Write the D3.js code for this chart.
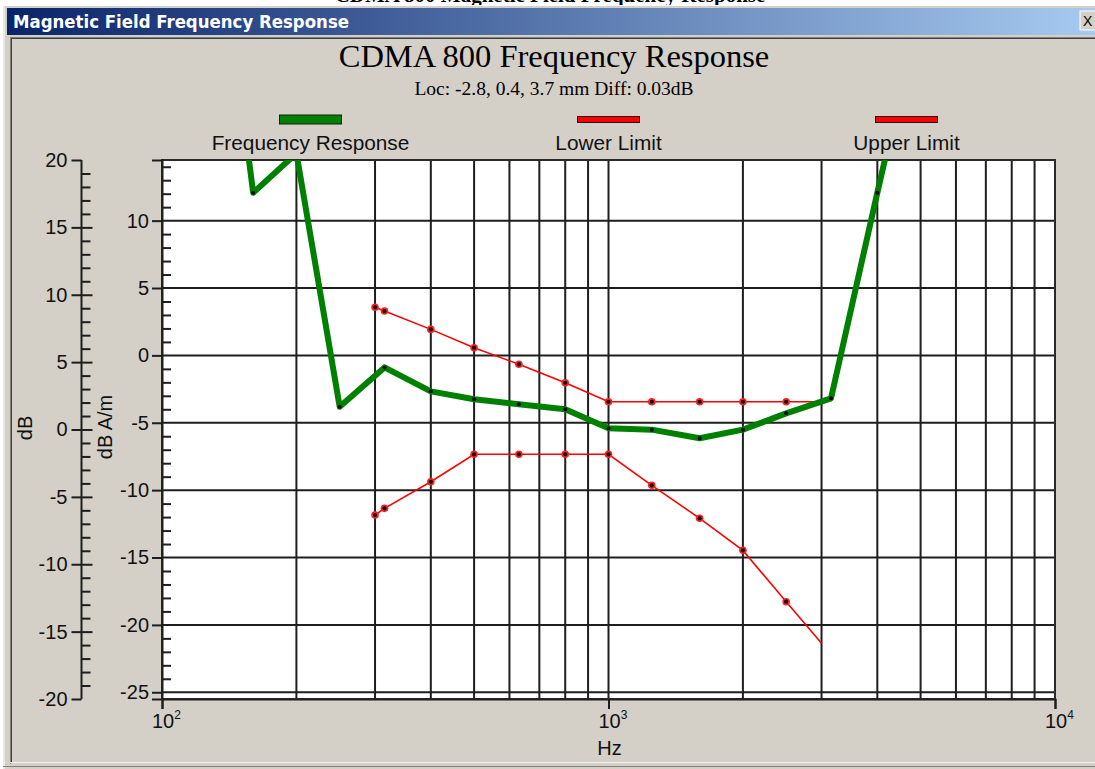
<!DOCTYPE html>
<html>
<head>
<meta charset="utf-8">
<script src="https://cdn.jsdelivr.net/npm/d3@7"></script>
<style>
  html, body { margin: 0; padding: 0; background: #ffffff; }
  svg { display: block; }
</style>
</head>
<body>
<script>
// ---------------- DATA ----------------
const responseFreqs = [125, 160, 200, 250, 315, 400, 500, 630, 800, 1000, 1250, 1600, 2000, 2500, 3150, 4000, 5000];
const responseValues = [40, 12.07, 15.0, -3.81, -0.89, -2.67, -3.26, -3.63, -4.00, -5.41, -5.51, -6.15, -5.51, -4.30, -3.19, 12.07, 26];

const limitFreqs = [300, 315, 400, 500, 630, 800, 1000, 1250, 1600, 2000, 2500, 3000];
const upperLimit = [3.57, 3.29, 1.93, 0.57, -0.66, -2.03, -3.44, -3.44, -3.44, -3.44, -3.44, -3.44];
const lowerLimit = [-11.85, -11.35, -9.38, -7.34, -7.34, -7.34, -7.34, -9.64, -12.09, -14.47, -18.28, -21.37];

const innerMajorTicks = [10, 5, 0, -5, -10, -15, -20, -25];
const outerMajorTicks = [20, 15, 10, 5, 0, -5, -10, -15, -20];
const xMajorTicks = [100, 1000, 10000];
const xMajorExp = ["2", "3", "4"];
const legendLabels = ["Frequency Response", "Lower Limit", "Upper Limit"];

const windowTitle = "Magnetic Field Frequency Response";
const chartTitle = "CDMA 800 Frequency Response";
const chartSubtitle = "Loc: -2.8, 0.4, 3.7 mm Diff: 0.03dB";
const pageHeading = "CDMA 800 Magnetic Field Frequency Response";

// ---------------- LAYOUT ----------------
const W = 1095, H = 769;
const plot = { left: 162, right: 1055, top: 160, bottom: 699 };
const outerAxisX = 81.5;

const svg = d3.select("body").append("svg").attr("width", W).attr("height", H);

const x = d3.scaleLog().domain([100, 10000]).range([plot.left, plot.right]);
const yIn = d3.scaleLinear().domain([-25.5, 14.5]).range([plot.bottom, plot.top]);
const yOut = d3.scaleLinear().domain([-20, 20]).range([plot.bottom, plot.top]);

const sans = "'Liberation Sans', Arial, sans-serif";
const serif = "'Liberation Serif', 'Times New Roman', serif";
const fmt = d => String(d);

// page background & clipped document heading above window
svg.append("rect").attr("width", W).attr("height", H).attr("fill", "#ffffff");
svg.append("text").attr("x", 550).attr("y", 1.5)
  .attr("text-anchor", "middle")
  .attr("font-family", serif).attr("font-weight", "bold").attr("font-size", 21)
  .text(pageHeading);

// window
const windowGroup = svg.append("g");
windowGroup.append("rect").attr("x", 3).attr("y", 5).attr("width", W - 3).attr("height", H - 5)
  .attr("fill", "#d4d0c8");
windowGroup.append("line").attr("x1", 4).attr("x2", 4).attr("y1", 5).attr("y2", H).attr("stroke", "#ffffff").attr("stroke-width", 1);
windowGroup.append("line").attr("x1", 3).attr("x2", W).attr("y1", 5.5).attr("y2", 5.5).attr("stroke", "#ffffff").attr("stroke-width", 1);

// title bar gradient
const defs = svg.append("defs");
const grad = defs.append("linearGradient").attr("id", "tbar").attr("x1", "0%").attr("x2", "100%");
grad.append("stop").attr("offset", "0%").attr("stop-color", "#0a246a");
grad.append("stop").attr("offset", "100%").attr("stop-color", "#a6caf0");
windowGroup.append("rect").attr("x", 7).attr("y", 8).attr("width", W - 7).attr("height", 27).attr("fill", "url(#tbar)");
windowGroup.append("text").attr("x", 13).attr("y", 28)
  .attr("fill", "#ffffff").attr("font-family", "'DejaVu Sans Condensed', 'DejaVu Sans', sans-serif")
  .attr("font-weight", "bold").attr("font-size", 17)
  .attr("textLength", 336).attr("lengthAdjust", "spacingAndGlyphs")
  .text(windowTitle);
// close button
windowGroup.append("rect").attr("x", 1080).attr("y", 11).attr("width", 20).attr("height", 19)
  .attr("fill", "#d4d0c8").attr("stroke", "#ffffff").attr("stroke-width", 1);
windowGroup.append("text").attr("x", 1083).attr("y", 26).attr("font-family", sans).attr("font-size", 14)
  .attr("fill", "#000").text("X");

// client sunken border
windowGroup.append("line").attr("x1", 10).attr("x2", W).attr("y1", 37.5).attr("y2", 37.5).attr("stroke", "#808080");
windowGroup.append("line").attr("x1", 11).attr("x2", W).attr("y1", 38.5).attr("y2", 38.5).attr("stroke", "#404040");
windowGroup.append("line").attr("x1", 10.5).attr("x2", 10.5).attr("y1", 37).attr("y2", 764).attr("stroke", "#808080");
windowGroup.append("line").attr("x1", 11.5).attr("x2", 11.5).attr("y1", 38).attr("y2", 763).attr("stroke", "#404040");
windowGroup.append("line").attr("x1", 10).attr("x2", W).attr("y1", 762.5).attr("y2", 762.5).attr("stroke", "#f4f4f4");
windowGroup.append("line").attr("x1", 3).attr("x2", W).attr("y1", 766.5).attr("y2", 766.5).attr("stroke", "#808080");

// chart titles
svg.append("text").attr("x", 554).attr("y", 67).attr("text-anchor", "middle")
  .attr("font-family", serif).attr("font-size", 32.5).attr("fill", "#000").text(chartTitle);
svg.append("text").attr("x", 554).attr("y", 95).attr("text-anchor", "middle")
  .attr("font-family", serif).attr("font-size", 19.5).attr("fill", "#000").text(chartSubtitle);

// legend
const legendX = [310.5, 608.5, 906.5];
const legendColors = ["#008000", "#ff0000", "#ff0000"];
const legendH = [9, 6, 6];
const legendG = svg.append("g");
legendLabels.forEach((lab, i) => {
  legendG.append("rect").attr("x", legendX[i] - 31).attr("y", 119.5 - legendH[i] / 2)
    .attr("width", 62).attr("height", legendH[i])
    .attr("fill", legendColors[i]).attr("stroke", "#1a1a1a").attr("stroke-width", 1);
  legendG.append("text").attr("x", legendX[i]).attr("y", 150).attr("text-anchor", "middle")
    .attr("font-family", sans).attr("font-size", 20.8).attr("fill", "#111").text(lab);
});

// plot area background
svg.append("rect").attr("x", plot.left).attr("y", plot.top)
  .attr("width", plot.right - plot.left).attr("height", plot.bottom - plot.top)
  .attr("fill", "#ffffff");

// grid lines
const gridG = svg.append("g").attr("stroke", "#1e1e1e").attr("stroke-width", 2);
const vFreqs = [];
[100, 1000].forEach(d => { for (let k = 2; k <= 9; k++) vFreqs.push(d * k); });
vFreqs.push(1000);
vFreqs.forEach(f => {
  gridG.append("line").attr("x1", x(f)).attr("x2", x(f)).attr("y1", plot.top).attr("y2", plot.bottom);
});
innerMajorTicks.forEach(v => {
  gridG.append("line").attr("x1", plot.left).attr("x2", plot.right).attr("y1", yIn(v)).attr("y2", yIn(v));
});

// plot frame
svg.append("rect").attr("x", plot.left).attr("y", plot.top)
  .attr("width", plot.right - plot.left).attr("height", plot.bottom - plot.top)
  .attr("fill", "none").attr("stroke", "#2a2a2a").attr("stroke-width", 2);

// inner (dB A/m) axis
const innerAxis = d3.axisLeft(yIn).tickValues(innerMajorTicks).tickSize(10).tickPadding(3).tickFormat(fmt);
const innerG = svg.append("g").attr("transform", `translate(${plot.left},0)`).call(innerAxis);
innerG.select(".domain").attr("stroke", "#1e1e1e").attr("stroke-width", 2);
innerG.selectAll(".tick line").attr("stroke", "#1e1e1e").attr("stroke-width", 2);
innerG.selectAll(".tick text").attr("font-family", sans).attr("font-size", 20).attr("fill", "#111");
const innerMinor = d3.range(-25, 15).filter(v => v % 5 !== 0);
const innerMinorAxis = d3.axisRight(yIn).tickValues(innerMinor).tickSize(9).tickFormat("");
const innerMinorG = svg.append("g").attr("transform", `translate(${plot.left},0)`).call(innerMinorAxis);
innerMinorG.select(".domain").remove();
innerMinorG.selectAll(".tick line").attr("stroke", "#1e1e1e").attr("stroke-width", 2);

// outer (dB) axis
const outerAxis = d3.axisLeft(yOut).tickValues(outerMajorTicks).tickSize(10).tickPadding(4).tickFormat(fmt);
const outerG = svg.append("g").attr("transform", `translate(${outerAxisX},0)`).call(outerAxis);
outerG.select(".domain").attr("stroke", "#1e1e1e").attr("stroke-width", 2).attr("d", `M0,${yOut(20)}V${yOut(-20)}`);
outerG.selectAll(".tick line").attr("stroke", "#1e1e1e").attr("stroke-width", 2);
outerG.selectAll(".tick text").attr("font-family", sans).attr("font-size", 20).attr("fill", "#111");
const outerRight = d3.range(-19, 20);
const outerRightAxis = d3.axisRight(yOut).tickValues(outerRight).tickSize(9).tickFormat("");
const outerRightG = svg.append("g").attr("transform", `translate(${outerAxisX},0)`).call(outerRightAxis);
outerRightG.select(".domain").remove();
outerRightG.selectAll(".tick line").attr("stroke", "#1e1e1e").attr("stroke-width", 2)
  .attr("x2", d => (d % 5 === 0 ? 11 : 9));

// axis titles
svg.append("text").attr("transform", `translate(32,428) rotate(-90)`).attr("text-anchor", "middle")
  .attr("font-family", sans).attr("font-size", 20).attr("fill", "#111").text("dB");
svg.append("text").attr("transform", `translate(112,427) rotate(-90)`).attr("text-anchor", "middle")
  .attr("font-family", sans).attr("font-size", 20).attr("fill", "#111").text("dB A/m");

// x axis
const xAxis = d3.axisBottom(x).tickValues(xMajorTicks).tickSize(10).tickFormat("");
const xG = svg.append("g").attr("transform", `translate(0,${plot.bottom})`).call(xAxis);
xG.select(".domain").attr("stroke", "#1e1e1e").attr("stroke-width", 2);
xG.selectAll(".tick line").attr("stroke", "#1e1e1e").attr("stroke-width", 2);
xMajorTicks.forEach((t, i) => {
  const tx = svg.append("text").attr("x", x(t) - 10).attr("y", 728)
    .attr("font-family", sans).attr("font-size", 20).attr("fill", "#111");
  tx.append("tspan").text("10");
  tx.append("tspan").attr("font-size", 12).attr("dy", -9).text(xMajorExp[i]);
});
svg.append("text").attr("x", x(1000) + 1).attr("y", 755).attr("text-anchor", "middle")
  .attr("font-family", sans).attr("font-size", 20).attr("fill", "#111").text("Hz");

// ---------------- DATA MARKS ----------------
defs.append("clipPath").attr("id", "plotclip").append("rect")
  .attr("x", plot.left).attr("y", plot.top)
  .attr("width", plot.right - plot.left).attr("height", plot.bottom - plot.top);
const dataG = svg.append("g").attr("clip-path", "url(#plotclip)");

const line = d3.line().x(d => x(d[0])).y(d => yIn(d[1]));

const upperPts = limitFreqs.map((f, i) => [f, upperLimit[i]]);
const lowerPts = limitFreqs.map((f, i) => [f, lowerLimit[i]]);
const respPts = responseFreqs.map((f, i) => [f, responseValues[i]]);

[upperPts, lowerPts].forEach(pts => {
  dataG.append("path").datum(pts).attr("d", line)
    .attr("fill", "none").attr("stroke", "#ff0000").attr("stroke-width", 1.6);
  const markPts = pts.slice(0, pts.length - 1);
  dataG.selectAll(null).data(markPts).enter().append("circle")
    .attr("cx", d => x(d[0])).attr("cy", d => yIn(d[1])).attr("r", 3.8).attr("fill", "#ff2020");
  dataG.selectAll(null).data(markPts).enter().append("circle")
    .attr("cx", d => x(d[0])).attr("cy", d => yIn(d[1])).attr("r", 2.1).attr("fill", "#000");
});

dataG.append("path").datum(respPts).attr("d", line)
  .attr("fill", "none").attr("stroke", "#008000").attr("stroke-width", 6)
  .attr("stroke-linejoin", "round");
dataG.selectAll(null).data(respPts).enter().append("circle")
  .attr("cx", d => x(d[0])).attr("cy", d => yIn(d[1])).attr("r", 2).attr("fill", "#000");
</script>
</body>
</html>
